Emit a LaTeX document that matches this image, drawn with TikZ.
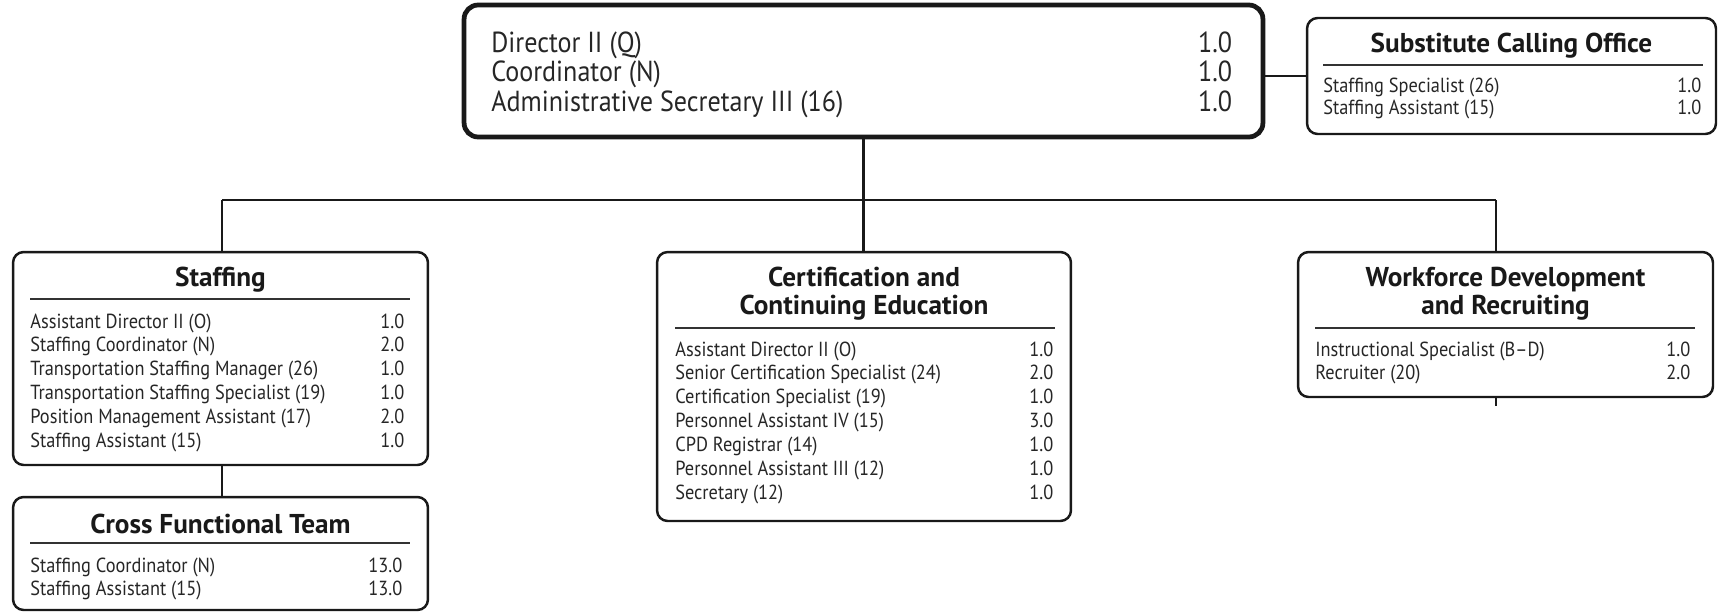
\documentclass[tikz,border=0pt]{standalone}
\usepackage{fontspec}
\setmainfont{PT Sans}[FakeStretch=0.9]
\newfontfamily\headfont{PT Sans}
\usepackage{array}
\newcommand{\poslist}[2]{\begin{tabular*}{#1}{@{}l@{\extracolsep{\fill}}r@{}}#2\end{tabular*}}

\begin{document}
\begin{tikzpicture}[x=0.02cm, y=-0.02cm,
    unit/.style={draw=black!90, line width=1.4pt, rounded corners=6pt, fill=white, inner sep=0pt},
    head/.style={unit, line width=2.7pt, rounded corners=8pt},
    title/.style={font=\headfont\bfseries\fontsize{15.5}{16}\selectfont, align=center, text=black!90, inner sep=0pt},
    list/.style={anchor=north west, inner sep=0pt, text=black!85, font=\fontsize{11.6}{13.6}\selectfont},
    rule/.style={draw=black!80, line width=0.7pt},
    link/.style={draw=black!90, line width=1.3pt}
]
\useasboundingbox (0,0) rectangle (1723,613);

\node[head, minimum width=15.98cm, minimum height=2.64cm] (dir) at (863.5,71) {};
\node[unit, minimum width=8.18cm, minimum height=2.32cm] (sub) at (1511.5,76) {};
\node[unit, minimum width=8.3cm, minimum height=4.26cm] (stf) at (220.5,358.5) {};
\node[unit, minimum width=8.3cm, minimum height=2.26cm] (cft) at (220.5,553.5) {};
\node[unit, minimum width=8.28cm, minimum height=5.38cm] (cce) at (864,386.5) {};
\node[unit, minimum width=8.3cm, minimum height=2.9cm] (wfd) at (1505.5,324.5) {};

\node[list, font=\fontsize{16.5}{16.5}\selectfont] (dirlist) at (491,31.5) {\poslist{14.82cm}{
Director II (Q) & 1.0\\
Coordinator (N) & 1.0\\
Administrative Secretary III (16) & 1.0}};

\node[title] (subhead) at (1511.5,46) {Substitute Calling Office};
\draw[rule] (1323,65) -- (1703,65);
\node[list, font=\fontsize{11.6}{12.6}\selectfont] (sublist) at (1323,77) {\poslist{7.56cm}{
Staffing Specialist (26) & 1.0\\
Staffing Assistant (15) & 1.0}};

\node[title] (stfhead) at (220.5,280) {Staffing};
\draw[rule] (30,299) -- (410,299);
\node[list] (stflist) at (30,311) {\poslist{7.48cm}{
Assistant Director II (O) & 1.0\\
Staffing Coordinator (N) & 2.0\\
Transportation Staffing Manager (26) & 1.0\\
Transportation Staffing Specialist (19) & 1.0\\
Position Management Assistant (17) & 2.0\\
Staffing Assistant (15) & 1.0}};

\node[title] (cfthead) at (220.5,524) {Cross Functional Team};
\draw[rule] (30,543) -- (410,543);
\node[list, font=\fontsize{11.6}{13}\selectfont] (cftlist) at (30,556) {\poslist{7.44cm}{
Staffing Coordinator (N) & 13.0\\
Staffing Assistant (15) & 13.0}};

\node[title] (ccehead) at (864,294) {Certification and\\Continuing Education};
\draw[rule] (675,328) -- (1055,328);
\node[list] (ccelist) at (675,339) {\poslist{7.56cm}{
Assistant Director II (O) & 1.0\\
Senior Certification Specialist (24) & 2.0\\
Certification Specialist (19) & 1.0\\
Personnel Assistant IV (15) & 3.0\\
CPD Registrar (14) & 1.0\\
Personnel Assistant III (12) & 1.0\\
Secretary (12) & 1.0}};

\node[title] (wfdhead) at (1505.5,294) {Workforce Development\\and Recruiting};
\draw[rule] (1315,328) -- (1695,328);
\node[list] (wfdlist) at (1315,339) {\poslist{7.5cm}{
Instructional Specialist (B--D) & 1.0\\
Recruiter (20) & 2.0}};

\coordinate (busL) at (222,200);
\coordinate (busR) at (1496,200);
\coordinate (wtick) at (1496,406);
\draw[link] (busL) -- (busR);
\draw[link] (dir.south) -- (dir.south |- cce.north);
\draw[link] (busL) -- (busL |- stf.north);
\draw[link] (busR) -- (busR |- wfd.north);
\draw[link] (busR |- wfd.south) -- (wtick);
\draw[link] (busL |- stf.south) -- (busL |- cft.north);
\draw[link] (dir.east |- sub.west) -- (sub.west);
\end{tikzpicture}
\end{document}
